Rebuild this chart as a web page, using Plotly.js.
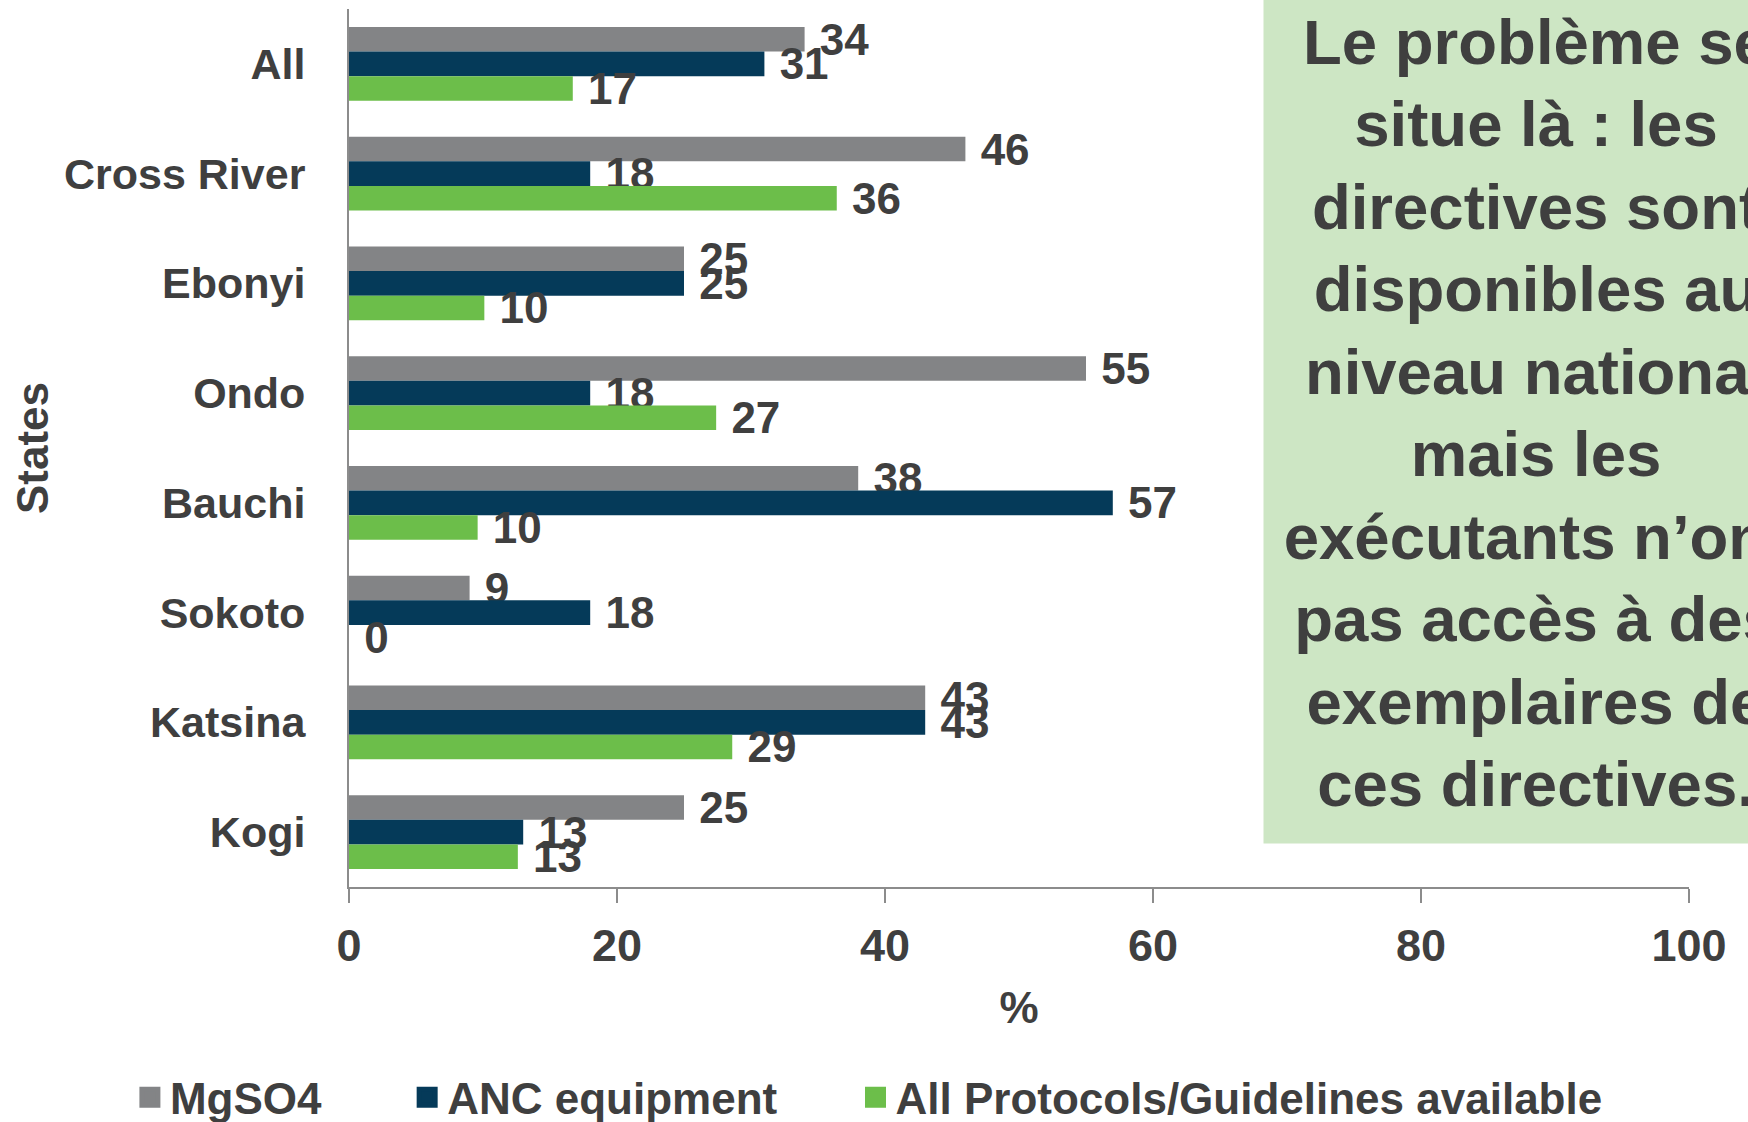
<!DOCTYPE html>
<html>
<head>
<meta charset="utf-8">
<script src="https://cdn.plot.ly/plotly-3.0.1.min.js"></script>
<style>
  html, body { margin: 0; padding: 0; background: #ffffff; }
  #chart { width: 1748px; height: 1122px; }
</style>
</head>
<body>
<div id="chart"></div>
<script>
// ---- Data ----
const categories = ['All', 'Cross River', 'Ebonyi', 'Ondo', 'Bauchi', 'Sokoto', 'Katsina', 'Kogi'];
const mgso4 = [34, 46, 25, 55, 38, 9, 43, 25];
const ancEquipment = [31, 18, 25, 18, 57, 18, 43, 13];
const protocols = [16.7, 36.4, 10.1, 27.4, 9.6, 0, 28.6, 12.6];
const seriesNames = ['MgSO4', 'ANC equipment', 'All Protocols/Guidelines available'];
const xTicks = [0, 20, 40, 60, 80, 100];
const noteLines = [
  'Le problème se',
  'situe là : les',
  'directives sont',
  'disponibles au',
  'niveau national',
  'mais les',
  'exécutants n’ont',
  'pas accès à des',
  'exemplaires de',
  'ces directives.'
];

// ---- Styling ----
const FONT = 'Liberation Sans, Arial, sans-serif';
const TXT = '#3f3f3f';
const colors = ['#838486', '#053a59', '#6cbe4a'];
const seriesValues = [mgso4, ancEquipment, protocols];
const NB = '\u00a0';
const SIXPM = '\u2006';
const legendPad = [NB.repeat(6) + SIXPM, NB.repeat(6), ''];

const barTraces = seriesValues.map((vals, i) => ({
  type: 'bar',
  orientation: 'h',
  name: seriesNames[i],
  y: categories,
  x: vals,
  marker: { color: colors[i], line: { width: 0 } },
  texttemplate: NB + '%{x:.0f}',
  textposition: 'outside',
  constraintext: 'none',
  cliponaxis: false,
  textfont: { family: FONT, size: 44, color: TXT, weight: 'bold' },
  showlegend: false,
  hoverinfo: 'skip'
}));

// Legend entries (square keys), no data drawn
const legendTraces = seriesNames.map((nm, i) => ({
  type: 'scatter',
  mode: 'markers',
  name: nm + legendPad[i],
  x: [null],
  y: [null],
  marker: { symbol: 'square', size: 16, color: colors[i], line: { width: 5, color: colors[i] } },
  showlegend: true,
  hoverinfo: 'skip'
}));

const layout = {
  width: 1748,
  height: 1122,
  paper_bgcolor: '#ffffff',
  plot_bgcolor: '#ffffff',
  margin: { l: 349, r: 59, t: 9, b: 235, pad: 0, autoexpand: false },
  barmode: 'group',
  bargap: 0.33,
  bargroupgap: 0,
  font: { family: FONT, size: 44, color: TXT, weight: 'bold' },
  showlegend: true,
  legend: {
    orientation: 'h',
    x: -0.1635,
    xanchor: 'left',
    y: -0.240,
    yanchor: 'middle',
    font: { family: FONT, size: 44, color: TXT, weight: 'bold' },
    itemsizing: 'trace',
    traceorder: 'normal',
    bgcolor: 'rgba(0,0,0,0)'
  },
  xaxis: {
    range: [0, 100],
    tickvals: xTicks,
    ticktext: xTicks.map(String),
    showgrid: false,
    zeroline: false,
    showline: true,
    linecolor: '#8c8c8c',
    linewidth: 2,
    ticks: 'outside',
    ticklen: 14,
    tickwidth: 2,
    tickcolor: '#8c8c8c',
    ticklabelstandoff: 4,
    tickfont: { family: FONT, size: 45, color: TXT, weight: 'bold' },
    title: { text: '%', font: { family: FONT, size: 44, color: TXT, weight: 'bold' }, standoff: 22 },
    fixedrange: true
  },
  yaxis: {
    type: 'category',
    categoryorder: 'array',
    categoryarray: categories,
    range: [7.5, -0.5],
    showgrid: false,
    zeroline: false,
    showline: true,
    linecolor: '#8c8c8c',
    linewidth: 2,
    ticks: '',
    ticklabelstandoff: 33,
    tickfont: { family: FONT, size: 43, color: TXT, weight: 'bold' },
    title: { text: 'States', font: { family: FONT, size: 44, color: TXT, weight: 'bold' }, standoff: 2 },
    fixedrange: true
  },
  annotations: [{
    xref: 'paper', yref: 'paper',
    x: 0.886, y: 0.540,
    xanchor: 'center', yanchor: 'middle',
    text: noteLines.join('<br>'),
    showarrow: false,
    align: 'center',
    valign: 'middle',
    width: 544,
    height: 860,
    borderpad: 0,
    bgcolor: '#cde6c4',
    font: { family: FONT, size: 63.5, color: TXT, weight: 'bold' }
  }]
};

Plotly.newPlot('chart', barTraces.concat(legendTraces), layout, { staticPlot: true, displayModeBar: false });
</script>
</body>
</html>
